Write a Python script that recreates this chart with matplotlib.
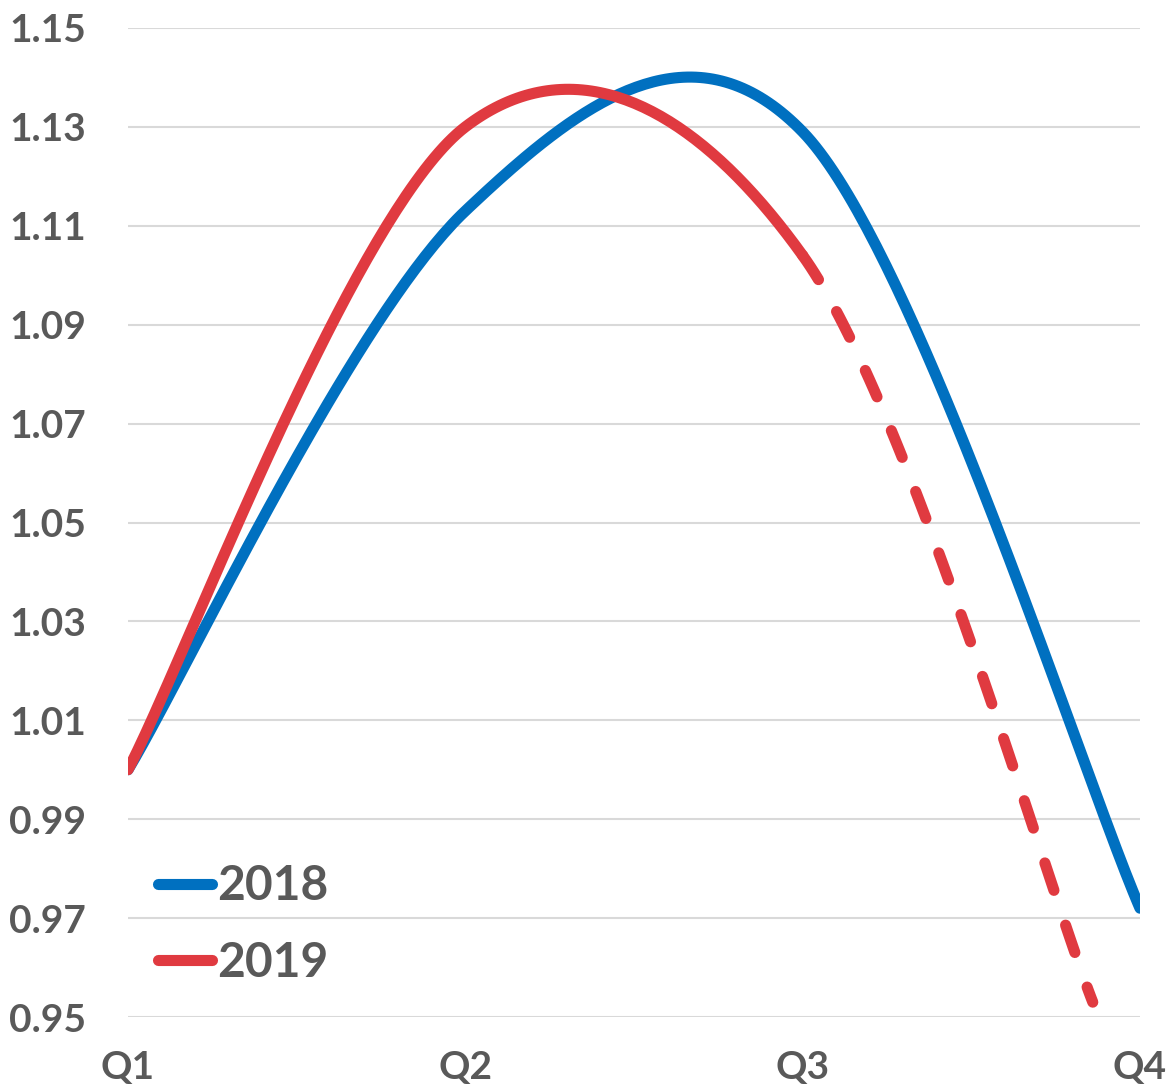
import numpy as np
import matplotlib.pyplot as plt

# quarterly index values
quarters = ['Q1', 'Q2', 'Q3', 'Q4']
q_pos = [0, 1, 2, 3]
idx_2018 = [1.000, 1.113, 1.129, 0.972]
idx_2019 = [1.000, 1.130, 1.104]
# 2019 outlook, starts at the Q3 value
proj_x = [2.0, 2.86]
proj_y = [1.104, 0.953]

y_ticks = [0.95, 0.97, 0.99, 1.01, 1.03, 1.05, 1.07, 1.09, 1.11, 1.13, 1.15]

BLUE = '#0070c0'
RED = '#e03a40'
GREY = '#595959'


def smooth(xs, ys, n=80):
    """ Bezier smoothing through the points, control points from neighbours (like office charts). """
    pts = np.column_stack([xs, ys]).astype(float)
    padded = np.vstack([pts[0], pts, pts[-1]])
    t = np.linspace(0, 1, n)[:, None]
    segs = []
    for i in range(len(pts) - 1):
        p0, p1, p2, p3 = padded[i], padded[i + 1], padded[i + 2], padded[i + 3]
        c1 = p1 + (p2 - p0) / 6
        c2 = p2 - (p3 - p1) / 6
        seg = (1 - t) ** 3 * p1 + 3 * (1 - t) ** 2 * t * c1 + 3 * (1 - t) * t ** 2 * c2 + t ** 3 * p2
        segs.append(seg)
    return segs


plt.rcParams['font.family'] = ['Lato', 'DejaVu Sans']
plt.rcParams['font.weight'] = 'bold'

fig = plt.figure(figsize=(11.67, 10.89), dpi=100)
ax = fig.add_axes([128 / 1167, 1 - 1017 / 1089, (1140 - 128) / 1167, (1017 - 28) / 1089])

lw = 8

# 2018
segs = smooth(q_pos, idx_2018)
curve = np.vstack(segs)
ax.plot(curve[:, 0], curve[:, 1], color=BLUE, lw=lw, solid_capstyle='round', label='2018', zorder=3)

# 2019 actual + dashed outlook, smoothed together
red_x = q_pos[:len(idx_2019)] + proj_x[1:]
red_y = idx_2019 + proj_y[1:]
segs = smooth(red_x, red_y)
solid = np.vstack(segs[:len(idx_2019) - 1])
dashed = np.vstack(segs[len(idx_2019) - 1:])
ax.plot(solid[:, 0], solid[:, 1], color=RED, lw=lw, solid_capstyle='round', label='2019', zorder=4)
ax.plot(dashed[:, 0], dashed[:, 1], color=RED, lw=lw, linestyle=(0, (2.6, 3.3)),
        dash_capstyle='round', zorder=4)

ax.set_xlim(0, 3)
ax.set_ylim(0.95, 1.15)
ax.set_xticks(q_pos)
ax.set_xticklabels(quarters)
ax.set_yticks(y_ticks)
ax.set_yticklabels([f'{v:.2f}' for v in y_ticks])
ax.tick_params(axis='both', length=0, labelsize=28, labelcolor=GREY)
ax.tick_params(axis='y', pad=30)
ax.tick_params(axis='x', pad=24)
ax.grid(axis='y', color='#d9d9d9', lw=1.5)
ax.set_axisbelow(True)
for s in ax.spines.values():
    s.set_visible(False)

leg = ax.legend(loc='lower left', bbox_to_anchor=(0.011, 0.013), frameon=False,
                fontsize=34.5, handlelength=1.12, handletextpad=0.1, labelspacing=0.68,
                borderaxespad=0)
for txt in leg.get_texts():
    txt.set_color(GREY)

fig.savefig('out.png', dpi=100)
